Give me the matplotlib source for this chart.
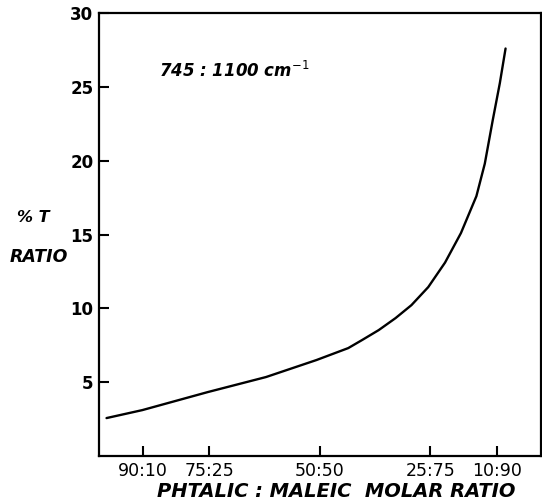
import numpy as np
from matplotlib import pyplot as plt

# maleic mole % (x) vs %T ratio 745:1100 cm-1 (y)
maleic_pct = [1.7, 9.8, 24.6, 37.8, 49.2, 56.4, 59.5, 63.3, 67.1, 70.7, 74.5,
              78.3, 81.9, 85.4, 87.3, 89.1, 90.7, 92.0]
t_ratio = [2.57, 3.11, 4.33, 5.35, 6.5, 7.31, 7.85, 8.53, 9.34, 10.22, 11.44,
           13.1, 15.1, 17.6, 19.8, 22.75, 25.25, 27.6]

x_ticks = [10, 25, 50, 75, 90]
x_tick_labels = ["90:10", "75:25", "50:50", "25:75", "10:90"]
y_ticks = [5, 10, 15, 20, 25, 30]

fig = plt.figure(figsize=(5.42, 5.03), dpi=100)
ax = fig.add_axes([0.1827, 0.0934, 0.8153, 0.8806])

ax.plot(maleic_pct, t_ratio, color="black", linewidth=1.7,
        solid_joinstyle="round", solid_capstyle="round")

ax.set_xlim(0, 100)
ax.set_ylim(0, 30)

ax.set_xticks(x_ticks)
ax.set_xticklabels(x_tick_labels, fontsize=12.5)
ax.set_yticks(y_ticks)
ax.set_yticklabels([str(v) for v in y_ticks], fontsize=12, fontweight="bold")
ax.tick_params(direction="in", length=7, width=1.5, pad=4)

for spine in ax.spines.values():
    spine.set_linewidth(1.6)

ax.text(13.5, 25.7, "745 : 1100 cm$^{-1}$", fontsize=12, style="italic", fontweight="bold")

# y-axis title is written horizontally on two lines
fig.text(0.031, 0.559, "% T", fontsize=11.5, style="italic", fontweight="bold")
fig.text(0.018, 0.479, "RATIO", fontsize=12.5, style="italic", fontweight="bold")

fig.text(0.62, 0.012, "PHTALIC : MALEIC  MOLAR RATIO", fontsize=14,
         style="italic", fontweight="bold", ha="center")

fig.savefig("out.png", dpi=100)
